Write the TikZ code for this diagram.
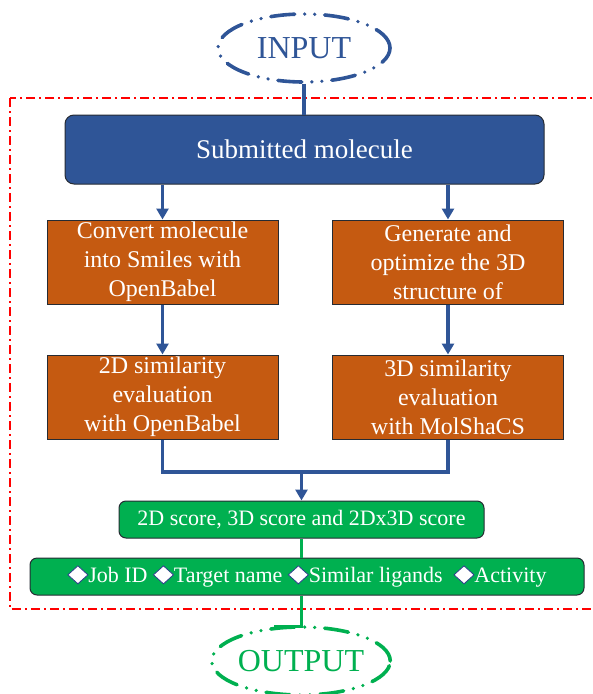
\documentclass[tikz,border=0pt]{standalone}
\usepackage{fontspec}
\setmainfont{Liberation Serif}
\usetikzlibrary{shapes.geometric,arrows.meta}

\definecolor{boxblue}{HTML}{2F5597}
\definecolor{boxorange}{HTML}{C55A11}
\definecolor{boxgreen}{HTML}{00B050}
\definecolor{boxedge}{HTML}{262B33}
\definecolor{dmdedge}{HTML}{2E3D8C}

\tikzset{
  ioring/.style={ellipse, minimum width=172pt, minimum height=68pt, inner sep=0pt,
    line width=3.6pt, line cap=round,
    dash pattern=on 24pt off 10pt on 0pt off 10pt on 0pt off 10pt,
    font=\fontsize{32}{38}\selectfont},
  mainbox/.style={rectangle, rounded corners=9pt, draw=boxedge, line width=1pt,
    fill=boxblue, text=white, font=\fontsize{27}{32}\selectfont},
  stepbox/.style={rectangle, draw=boxedge, line width=1pt, fill=boxorange,
    text=white, align=center, inner sep=0pt,
    minimum width=231pt, minimum height=84pt,
    font=\fontsize{24}{29}\selectfont},
  scorebox/.style={rectangle, rounded corners=7pt, draw=boxedge, line width=1pt,
    fill=boxgreen, text=white, inner sep=0pt, minimum height=37pt,
    font=\fontsize{22}{26}\selectfont},
  blueline/.style={draw=boxblue, line width=3.4pt},
  bluearrow/.style={blueline, -{Triangle[width=12pt,length=11pt]}},
  greenline/.style={draw=boxgreen, line width=3.4pt}
}

% small white diamond used as a bullet
\newcommand{\dmd}{\tikz[baseline=-8pt]\draw[sharp corners, solid, fill=white,
  draw=dmdedge, line width=0.8pt]
  (0pt,-9pt) -- (10pt,0pt) -- (0pt,9pt) -- (-10pt,0pt) -- cycle;}

\begin{document}
\begin{tikzpicture}[x=1pt,y=-1pt]
  \useasboundingbox (0,0) rectangle (593,694);

  % red dash-dot frame round the server part
  \draw[red, line width=1.6pt, dash pattern=on 9pt off 4pt on 2pt off 4pt]
    (10,98) rectangle (604,609);

  % input and output
  \node[ioring, draw=boxblue, text=boxblue] (input) at (304,48) {INPUT};
  \node[ioring, draw=boxgreen, text=boxgreen] (output) at (301,661) {OUTPUT};

  % boxes
  \node[mainbox, minimum width=479pt, minimum height=69pt] (submitted) at (304.5,149.5)
    {Submitted molecule};
  \node[stepbox] (convert) at (162.5,262) {Convert molecule\\into Smiles with\\OpenBabel};
  \node[stepbox] (generate) at (448,262) {Generate and\\optimize the 3D\\structure of};
  \node[stepbox] (sim2d) at (162.5,397) {2D similarity\\evaluation\\with OpenBabel};
  \node[stepbox] (sim3d) at (448,397) {3D similarity\\evaluation\\with MolShaCS};
  \node[scorebox, minimum width=365pt] (scores) at (301.5,519.5)
    {2D score, 3D score and 2Dx3D score};
  \node[scorebox, minimum width=554pt] (results) at (307,576.5)
    {\dmd Job ID \dmd Target name \dmd Similar ligands \ \dmd Activity};

  % blue connectors
  \draw[blueline] (input.south) -- (input.south |- submitted.north);
  \draw[bluearrow] (submitted.south -| convert.north) -- (convert.north);
  \draw[bluearrow] (submitted.south -| generate.north) -- (generate.north);
  \draw[bluearrow] (convert.south) -- (sim2d.north);
  \draw[bluearrow] (generate.south) -- (sim3d.north);
  \coordinate (join) at (scores.north |- 0,472);
  \draw[blueline] (sim2d.south) |- (join) -| (sim3d.south);
  \draw[bluearrow] (join) -- (scores.north);

  % green connectors
  \draw[greenline] (scores.south) -- (scores.south |- results.north);
  \draw[greenline] (scores.south |- results.south) |- (output.128);

\end{tikzpicture}
\end{document}
